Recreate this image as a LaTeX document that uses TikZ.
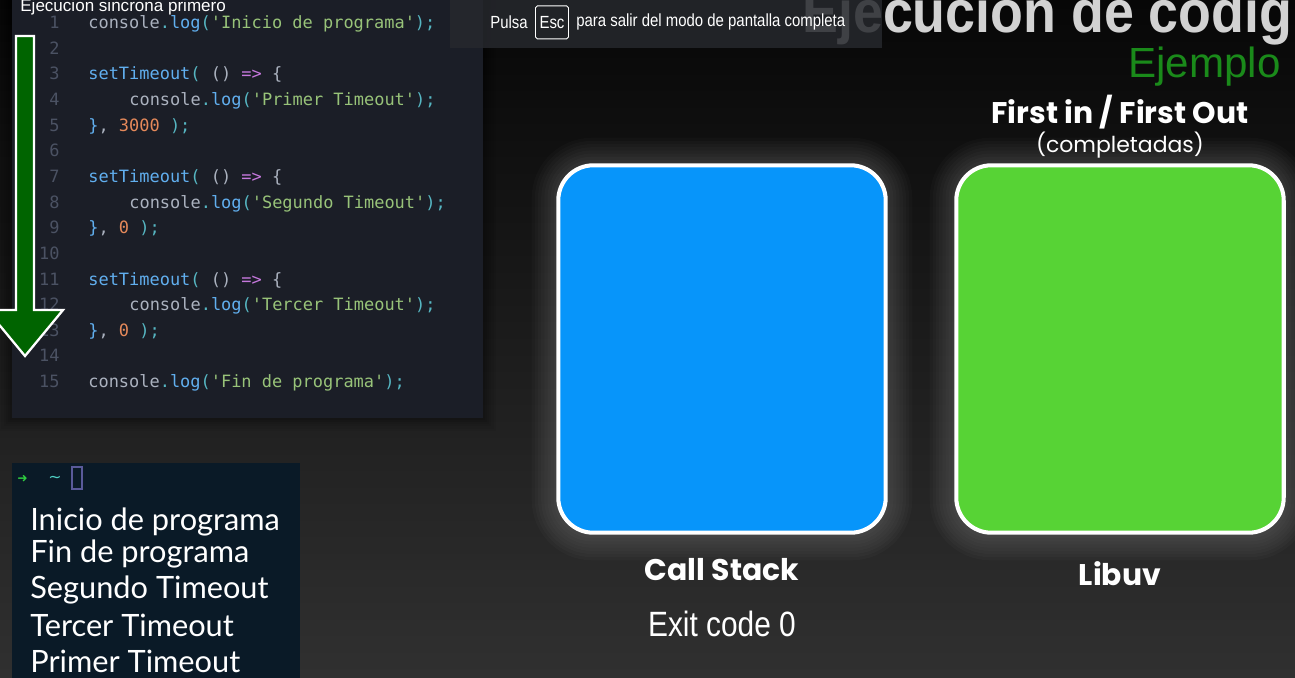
\documentclass[tikz,border=0pt]{standalone}
\usepackage{fontspec}
\setmainfont{Liberation Sans}
\setmonofont{DejaVu Sans Mono}
\newfontfamily\slidefont{Poppins}
\newfontfamily\termfont{Lato}
\newfontfamily\narrowfont[FakeStretch=0.85]{Liberation Sans}
\newfontfamily\titlefont[FakeStretch=0.9]{Liberation Sans}
\newfontfamily\symbolfont{DejaVu Sans}
\usetikzlibrary{positioning}

\definecolor{bgtop}{HTML}{070707}
\definecolor{bgbottom}{HTML}{303030}
\definecolor{editorbg}{HTML}{1B1E27}
\definecolor{termbg}{HTML}{0A1A27}
\definecolor{bannerbg}{HTML}{26282D}
\definecolor{stackblue}{HTML}{0795FA}
\definecolor{libuvgreen}{HTML}{57D335}
\definecolor{arrowgreen}{HTML}{006400}
\definecolor{ejemplogreen}{HTML}{1A8A1A}
\definecolor{titlegray}{HTML}{D2D2D2}
\definecolor{cplain}{HTML}{ABB2BF}
\definecolor{cpunct}{HTML}{56B6C2}
\definecolor{cfun}{HTML}{61AFEF}
\definecolor{cstr}{HTML}{98C379}
\definecolor{cnum}{HTML}{E5895A}
\definecolor{carrow}{HTML}{C678DD}
\definecolor{linenum}{HTML}{4B5263}
\definecolor{promptgreen}{HTML}{2ECC40}
\definecolor{prompttilde}{HTML}{4FD1C5}
\definecolor{cursorline}{HTML}{5A5A9A}

% colouring of the code tokens
\newcommand{\cPlain}[1]{\textcolor{cplain}{#1}}
\newcommand{\cPunct}[1]{\textcolor{cpunct}{#1}}
\newcommand{\cFun}[1]{\textcolor{cfun}{#1}}
\newcommand{\cStr}[1]{\textcolor{cstr}{#1}}
\newcommand{\cNum}[1]{\textcolor{cnum}{#1}}
\newcommand{\cArrow}[1]{\textcolor{carrow}{#1}}
\newcommand{\logline}[1]{\cPlain{console}\cPunct{.}\cFun{log}\cPunct{(}\cStr{'#1'}\cPunct{);}}
\newcommand{\timeoutline}{\cFun{setTimeout}\cPunct{(} \cPlain{()} \cArrow{=>} \cPlain{\{}}

\begin{document}
\begin{tikzpicture}[x=0.02cm, y=-0.02cm,
    code/.style={anchor=mid west, inner sep=0pt, font=\ttfamily\fontsize{9.65}{11}\selectfont},
    lineno/.style={anchor=mid east, inner sep=0pt, text=linenum, font=\ttfamily\fontsize{9.65}{11}\selectfont},
    termline/.style={anchor=mid west, inner sep=0pt, text=white, font=\termfont\fontsize{17.5}{20}\selectfont},
    queuebox/.style={draw=white, line width=2.3pt, rounded corners=20pt, minimum width=6.55cm, minimum height=7.35cm},
    boxlabel/.style={inner sep=0pt, text=white, font=\slidefont\bfseries\fontsize{17}{20}\selectfont},
    bannertext/.style={anchor=mid west, inner sep=0pt, text=white, font=\narrowfont\fontsize{10}{12}\selectfont}]
    \useasboundingbox (0,0) rectangle (1295,677);
    \clip (0,0) rectangle (1295,677);
    \shade[top color=bgtop, bottom color=bgbottom] (0,0) rectangle (1295,677);

    % soft glow behind the two boxes
    \foreach \g in {6,12,...,48} {
        \draw[white, opacity=0.018, line width=\g*0.6pt, rounded corners=20pt] (557,163) rectangle (887,535);
        \draw[white, opacity=0.018, line width=\g*0.6pt, rounded corners=20pt] (955,163) rectangle (1285,535);
    }
    \node[queuebox, fill=stackblue] (callstack) at (722,349) {};
    \node[queuebox, fill=libuvgreen] (libuv) at (1120,349) {};
    \node[boxlabel, below=0.46cm of callstack] (callstacklabel) {Call Stack};
    \node[boxlabel, below=0.52cm of libuv] (libuvlabel) {Libuv};
    \node[inner sep=0pt, text=white, font=\narrowfont\fontsize{20}{24}\selectfont,
        below=0.6cm of callstacklabel] (exitcode) {Exit code 0};
    \node[inner sep=0pt, text=white, font=\slidefont\fontsize{12.5}{15}\selectfont,
        above=0.1cm of libuv] (completadas) {(completadas)};
    \node[boxlabel, above=0.03cm of completadas] (fifo) {First in / First Out};

    % title and example
    \node[anchor=base west, inner sep=0pt, text=titlegray, font=\titlefont\bfseries\fontsize{34}{38}\selectfont]
        (title) at (802,32) {Ejecucion de codig};
    \node[anchor=base east, inner sep=0pt, text=ejemplogreen, font=\fontsize{24}{28}\selectfont]
        (ejemplo) at (1281,77) {Ejemplo};

    % code editor
    \foreach \g in {4,8,...,24}
        \draw[black, opacity=0.06, line width=\g*0.6pt] (12,-10) rectangle (483,418);
    \fill[editorbg] (12,-10) rectangle (483,418);
    \foreach \n in {1,...,15}
        \node[lineno] (ln\n) at (60,{24+(\n-1)*25.64}) {\n};
    \node[code] (l1) at (88,24) {\logline{Inicio de programa}};
    \node[code] (l3) at (88,75.3) {\timeoutline};
    \node[code] (l4) at (129,101) {\logline{Primer Timeout}};
    \node[code] (l5) at (88,126.6) {\cFun{\}}\cPlain{,} \cNum{3000} \cPunct{);}};
    \node[code] (l7) at (88,177.8) {\timeoutline};
    \node[code] (l8) at (129,203.5) {\logline{Segundo Timeout}};
    \node[code] (l9) at (88,229.1) {\cFun{\}}\cPlain{,} \cNum{0} \cPunct{);}};
    \node[code] (l11) at (88,280.4) {\timeoutline};
    \node[code] (l12) at (129,306) {\logline{Tercer Timeout}};
    \node[code] (l13) at (88,331.7) {\cFun{\}}\cPlain{,} \cNum{0} \cPunct{);}};
    \node[code] (l15) at (88,383) {\logline{Fin de programa}};
    \node[anchor=base west, inner sep=0pt, text=white, font=\fontsize{9.7}{11}\selectfont]
        (sincrona) at (20,11) {Ejecucion sincrona primero};

    % big arrow down the code
    \draw[white, line width=1.3pt, fill=arrowgreen, line join=miter]
        (16,36) -- (34,36) -- (34,310) -- (63,310) -- (25,356) -- (-13,310) -- (16,310) -- cycle;

    % terminal output
    \fill[termbg] (12,463) rectangle (300,690);
    \node[anchor=mid west, inner sep=0pt, text=promptgreen, font=\symbolfont\fontsize{7}{8}\selectfont]
        (prompt) at (17,478) {➜};
    \node[anchor=mid west, inner sep=0pt, text=prompttilde, font=\symbolfont\fontsize{9}{10}\selectfont]
        (tilde) at (48,478) {\textasciitilde};
    \draw[cursorline, line width=0.6pt] (72,467) rectangle (82,489);
    \node[termline] (out1) at (30,526) {Inicio de programa};
    \node[termline] (out2) at (30,558) {Fin de programa};
    \node[termline] (out3) at (30,594) {Segundo Timeout};
    \node[termline] (out4) at (30,632) {Tercer Timeout};
    \node[termline] (out5) at (30,668) {Primer Timeout};

    % full screen banner
    \fill[bannerbg, opacity=0.85] (450,-5) rectangle (882,48);
    \node[bannertext] (pulsa) at (490,24) {Pulsa};
    \node[draw=white, line width=0.5pt, rounded corners=1pt, minimum width=0.66cm, minimum height=0.66cm,
        inner sep=0pt, text=white, font=\narrowfont\fontsize{10}{12}\selectfont, right=0.14cm of pulsa] (esc) {Esc};
    \node[bannertext, right=0.14cm of esc] (salir) {para salir del modo de pantalla completa};
\end{tikzpicture}
\end{document}
